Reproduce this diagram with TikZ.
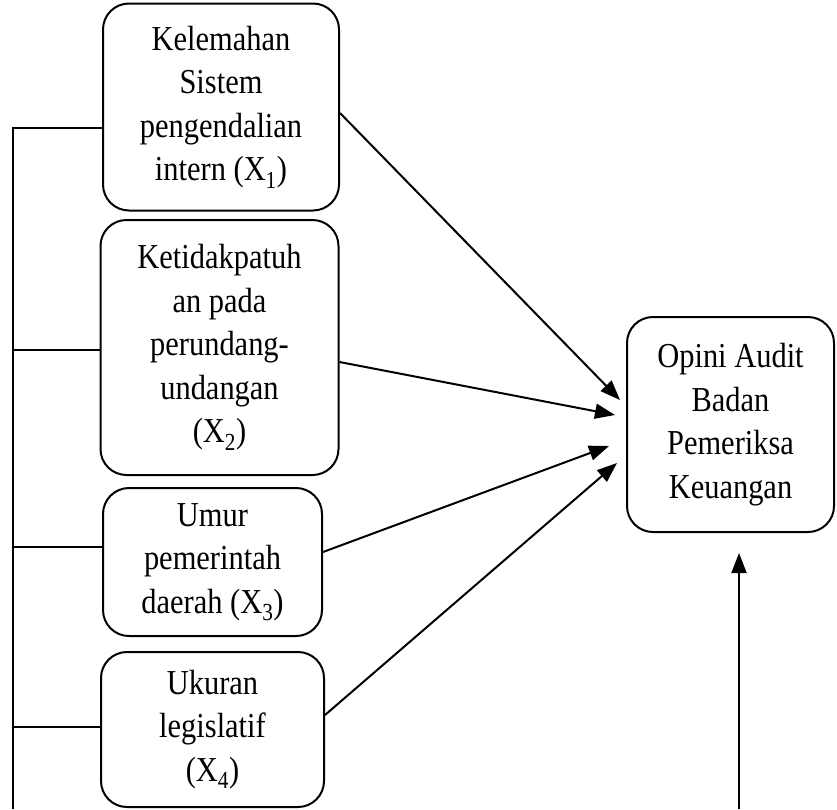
\documentclass[tikz,border=0pt]{standalone}
\usepackage{fontspec}
\setmainfont[FakeStretch=0.87]{Liberation Serif}
\usetikzlibrary{arrows.meta}
\begin{document}
\begin{tikzpicture}[x=1pt,y=-1pt,
  box/.style={draw,line width=2pt,rounded corners=26pt,align=center,inner sep=0pt,
    font=\fontsize{35}{43.5}\selectfont},
  link/.style={line width=2pt},
  arr/.style={line width=2pt,-{Triangle[length=20pt,width=15pt]}}]
\useasboundingbox (0,0) rectangle (837,809);
\node[box,minimum width=236pt,minimum height=207pt] (b1) at (221,107) {Kelemahan\\Sistem\\pengendalian\\intern (X\textsubscript{1})};
\node[box,minimum width=238pt,minimum height=255pt] (b2) at (219.5,347.5) {Ketidakpatuh\\an pada\\perundang-\\undangan\\(X\textsubscript{2})};
\node[box,minimum width=219pt,minimum height=148pt] (b3) at (212.5,562) {Umur\\pemerintah\\daerah (X\textsubscript{3})};
\node[box,minimum width=223pt,minimum height=155pt] (b4) at (212.5,729.5) {Ukuran\\legislatif\\(X\textsubscript{4})};
\node[box,minimum width=207pt,minimum height=215pt] (b5) at (730.5,424.5) {Opini Audit\\Badan\\Pemeriksa\\Keuangan};
\coordinate (lb) at (13,809);
\coordinate (t1) at (620,400);
\coordinate (t2) at (615,415);
\coordinate (t3) at (609,446);
\coordinate (t4) at (617,463);
\coordinate (vb) at (739,809);
\coordinate (vt) at (739,553);
\draw[link] ([yshift=-21pt]b1.west) -| (lb);
\draw[link] ([yshift=-2.5pt]b2.west) -| (lb);
\draw[link] ([yshift=15pt]b3.west) -| (lb);
\draw[link] ([yshift=2.5pt]b4.west) -| (lb);
\draw[arr] ([yshift=-6pt]b1.east) -- (t1);
\draw[arr] ([yshift=-14.5pt]b2.east) -- (t2);
\draw[arr] ([yshift=10pt]b3.east) -- (t3);
\draw[arr] ([yshift=14.5pt]b4.east) -- (t4);
\draw[arr] (vb) -- (vt);
\end{tikzpicture}
\end{document}
